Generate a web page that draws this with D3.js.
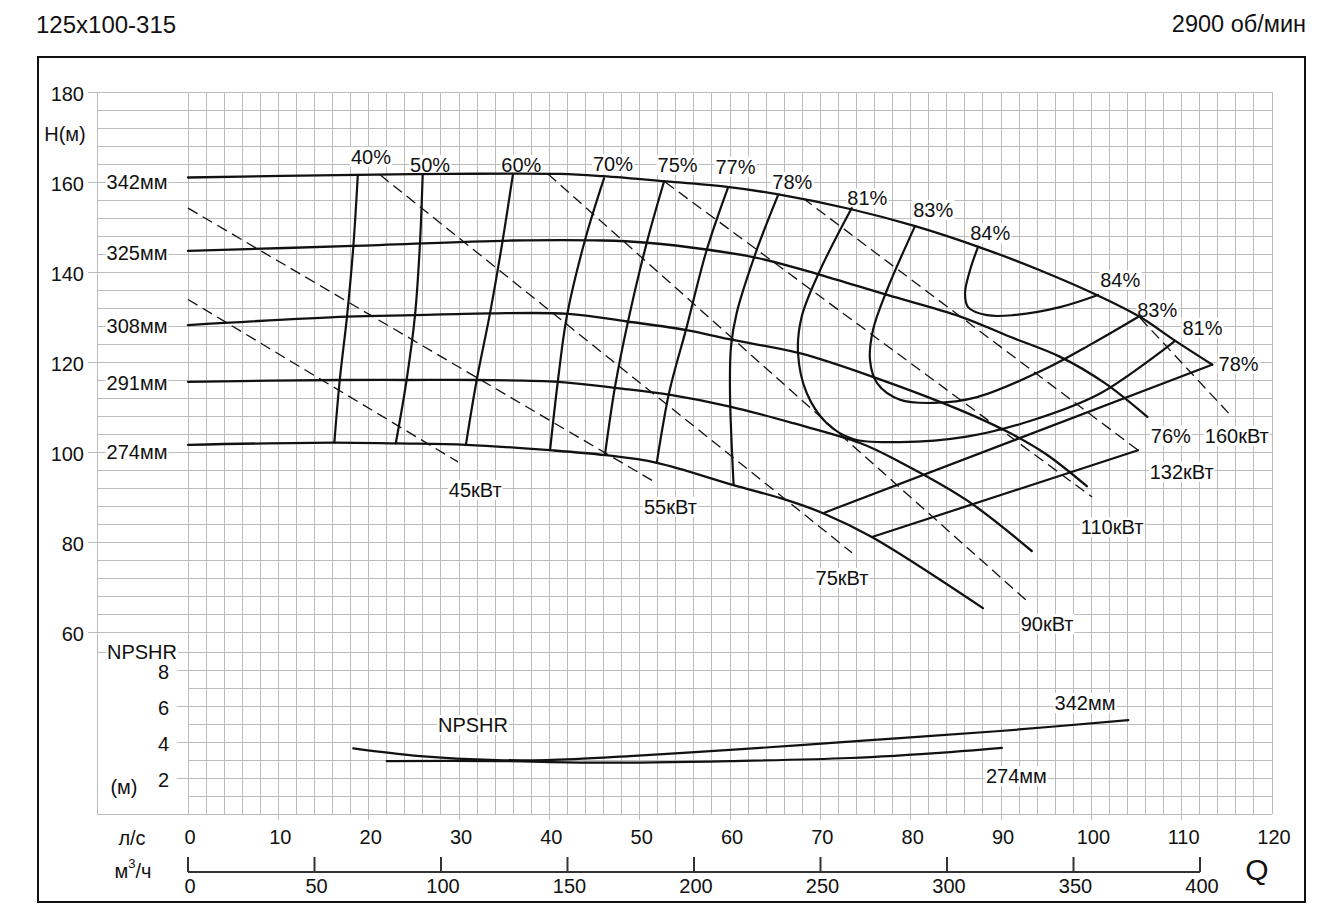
<!DOCTYPE html>
<html><head><meta charset="utf-8">
<script src="https://cdn.jsdelivr.net/npm/d3@7"></script>
<style>
body{margin:0;background:#fff}
svg{display:block}
text{font-family:"Liberation Sans",Arial,Helvetica,sans-serif;fill:#111}
</style>
</head><body>
<svg id="chart" width="1340" height="920"></svg>
<script>
// ---------- texts & ticks ----------
const title = "125x100-315";
const speed = "2900 об/мин";
const lsTicks = [0,10,20,30,40,50,60,70,80,90,100,110,120];
const m3hTicks = [0,50,100,150,200,250,300,350,400];
const headTicks = [60,80,100,120,140,160,180];
const npshTicks = [2,4,6,8];

// ---------- H-Q curves (Q l/s, H m) ----------
const diameters = ["342мм","325мм","308мм","291мм","274мм"];
const diameterLabelH = [160,144.2,128,115.3,100];
const head342 = [[0,161.0],[18.7,161.6],[29,161.8],[41.2,161.8],[45.9,161.3],[52.6,160.2],[59.7,158.9],[65.2,157.3],[73.3,154.0],[80.5,150.2],[87.5,145.6],[94.3,140.4],[100.6,134.9],[105.4,130.0],[109.3,124.7],[113.4,119.4]];
const head325 = [[0,144.7],[18.3,145.8],[35.9,147.0],[45.9,147.0],[50.8,146.5],[57.4,145.0],[63.3,143.0],[69.6,139.6],[77.4,134.9],[85.5,130.1],[91.0,125.6],[96.5,121.2],[101.5,115.3],[106.2,107.8]];
const head308 = [[0,128.2],[17.6,130.1],[25.1,130.4],[33.4,130.8],[42.1,130.7],[48.6,129.0],[55.2,127.1],[60.3,124.9],[67.8,121.9],[75.8,116.7],[85.5,109.3],[91.0,104.2],[95.0,99.5],[99.5,92.4]];
const head291 = [[0,115.6],[16.8,116.0],[24.2,116.0],[32.0,116.0],[41.0,115.6],[47.5,114.2],[53.4,112.7],[60.0,110.1],[67.0,106.4],[74.4,102.0],[78.8,97.8],[86.2,89.3],[93.4,78.0]];
const head274 = [[0,101.6],[16.2,102.1],[23.1,101.9],[30.8,101.6],[40.1,100.4],[46.2,99.3],[51.9,97.6],[60.3,92.7],[66.3,89.3],[70.3,86.4],[75.7,81.1],[88.0,65.3]];

// ---------- efficiency iso-lines ----------
const eff40 = [[18.8,161.6],[18.3,145.6],[17.6,130.1],[16.8,116.0],[16.2,102.1]];
const eff50 = [[25.98,161.6],[25.68,146.4],[25.13,130.4],[24.2,116.0],[23.0,101.9]];
const eff60 = [[35.98,161.8],[34.84,147.1],[33.43,130.8],[31.96,116.0],[30.78,101.8]];
const eff70 = [[46.05,160.8],[43.95,147.1],[41.96,130.4],[40.96,116.0],[40.08,100.4]];
const eff75 = [[52.7,160.1],[50.81,146.7],[48.71,129.0],[47.27,114.5],[46.16,99.4]];
const eff77 = [[59.75,158.6],[57.42,144.9],[55.21,127.8],[53.25,113.1],[51.89,97.6]];
const eff78 = [[65.32,157.1],[62.96,144.9],[60.74,130.9],[60.11,123.4],[60.0,113.1],[60.4,92.7]];
const eff81 = [[73.48,154.2],[69.97,140.4],[67.94,130.1],[67.53,122.0],[68.49,113.1],[70.71,106.4],[73.62,102.9],[78.8,102.2],[86.2,103.4],[93.55,107.1],[100.96,113.0],[109.27,124.7]];
const eff83 = [[80.48,150.2],[77.38,136.0],[75.83,127.1],[75.5,120.4],[76.28,115.3],[78.82,111.6],[82.48,110.9],[87.35,112.2],[94.65,118.2],[100.19,124.2],[105.17,130.0]];
const eff84 = [[87.46,145.6],[86.57,140.4],[86.02,135.3],[86.35,132.2],[88.45,130.4],[91.33,130.4],[96.53,132.2],[100.74,134.9]];
const eff78right = [[70.3,86.4],[113.36,119.4]];
const eff76right = [[75.72,81.1],[105.17,100.4]];

// ---------- power lines (dashed) ----------
const power45 = [[0,133.9],[29.89,97.8]];
const power55 = [[0,154.2],[51.7,93.3]];
const power75 = [[21.26,161.6],[73.51,77.6]];
const power90 = [[39.85,161.8],[92.99,66.7]];
const power110 = [[52.81,160.0],[100.08,90.0]];
const power132 = [[68.08,156.4],[105.17,100.4]];
const power160 = [[105.39,129.8],[115.58,107.8]];

// ---------- NPSHR ----------
const npsh342 = [[18.3,3.65],[25.7,3.22],[34.2,3.0],[39.7,3.0],[48.9,3.22],[60.0,3.56],[67.8,3.83],[78.8,4.22],[89.9,4.61],[104.1,5.22]];
const npsh274 = [[22.0,2.94],[34.2,2.94],[45.3,2.85],[60.0,2.94],[73.3,3.11],[84.4,3.44],[90.1,3.67]];

// ---------- labels inside the plot ----------
const effLabels = ["40%","50%","60%","70%","75%","77%","78%","81%","83%","84%","84%","83%","81%","78%","76%"];
const effLabelPos = [[20.26,165.6],[26.8,163.8],[36.9,163.8],[47.05,164.0],[54.2,163.8],[60.6,163.4],[66.9,160.0],[75.2,156.4],[82.5,153.8],[88.8,148.6],[103.2,138.2],[107.3,131.6],[112.3,127.6],[116.3,119.6],[108.8,103.6]];
const powerLabels = ["45кВт","55кВт","75кВт","90кВт","110кВт","132кВт","160кВт"];
const powerLabelPos = [[31.8,91.6],[53.4,87.8],[72.4,72.0],[95.1,61.8],[102.3,83.3],[110.0,95.6],[116.1,103.6]];
const npshLabels = ["NPSHR","342мм","274мм"];
const npshLabelPos = [[31.55,4.94],[99.3,6.17],[91.7,2.11]];

// ---------- drawing ----------
const svg = d3.select("#chart");
const x = d3.scaleLinear().domain([0,120]).range([188,1272]);
const xM = d3.scaleLinear().domain([0,400]).range([188,1200]);
const yH = d3.scaleLinear().domain([60,180]).range([632,92]);
const yN = d3.scaleLinear().domain([0,8]).range([814,670]);
const gridColor = "#bcbcbc";
const FS = 20;

svg.append("rect").attr("x",38).attr("y",57).attr("width",1267).attr("height",845)
  .attr("fill","none").attr("stroke","#111").attr("stroke-width",2);

svg.append("text").attr("x",36).attr("y",24).attr("dominant-baseline","central")
  .style("font-size","24px").text(title);
svg.append("text").attr("x",1306).attr("y",24).attr("dominant-baseline","central")
  .attr("text-anchor","end").style("font-size","23.5px").text(speed);

// grid
const grid = svg.append("g").attr("stroke",gridColor).attr("stroke-width",1).attr("shape-rendering","crispEdges");
d3.range(0,121,2).forEach(q => {
  grid.append("line").attr("x1",x(q)).attr("x2",x(q)).attr("y1",yH(180))
    .attr("y2",(q%10===0 && q>0 && q<120) ? yN(0)+6 : yN(0));
});
grid.append("line").attr("x1",97).attr("x2",97).attr("y1",yH(180)).attr("y2",yN(0));
d3.range(60,181,4).forEach(h => {
  grid.append("line").attr("x1",97).attr("x2",x(120)).attr("y1",yH(h)).attr("y2",yH(h));
});
headTicks.forEach(h => {
  grid.append("line").attr("x1",88).attr("x2",97).attr("y1",yH(h)).attr("y2",yH(h));
});
d3.range(0,10,1).forEach(n => {
  let x1 = 188;
  if (n === 0 || n === 9) x1 = 97;
  else if (npshTicks.includes(n)) x1 = 177;
  grid.append("line").attr("x1",x1).attr("x2",x(120)).attr("y1",yN(n)).attr("y2",yN(n));
});

function label(g, px, py, txt, opt) {
  opt = opt || {};
  const t = g.append("text").attr("x",px).attr("y",py)
    .attr("text-anchor",opt.anchor || "middle").attr("dominant-baseline","central")
    .style("font-size",(opt.size || FS)+"px").text(txt);
  if (opt.bg) {
    const b = t.node().getBBox();
    g.insert("rect", () => t.node()).attr("x",b.x-1).attr("y",b.y+1)
      .attr("width",b.width+2).attr("height",b.height-2).attr("fill","#fff");
  }
  return t;
}

const labels = svg.append("g");
headTicks.forEach(h => label(labels, 84, yH(h)+2, String(h), {anchor:"end"}));
label(labels, 65, 134, "H(м)");
diameters.forEach((d,i) => label(labels, 137, yH(diameterLabelH[i]), d, {bg:true}));
label(labels, 142, yN(9), "NPSHR", {bg:true});
npshTicks.forEach(n => label(labels, 169, yN(n)+2, String(n), {anchor:"end"}));
label(labels, 124, 787, "(м)");

lsTicks.forEach(q => label(labels, x(q)+2, 837, String(q)));
label(labels, 132, 838, "л/с");
const mt = labels.append("text").attr("x",133).attr("y",871).attr("text-anchor","middle")
  .attr("dominant-baseline","central").style("font-size",FS+"px");
mt.append("tspan").text("м");
mt.append("tspan").attr("dy",-8).style("font-size","13px").text("3");
mt.append("tspan").attr("dy",8).text("/ч");
label(labels, 1257, 869, "Q", {size:30});

const axM = svg.append("g").attr("stroke","#333").attr("stroke-width",2);
axM.append("line").attr("x1",xM(0)).attr("x2",xM(400)).attr("y1",872).attr("y2",872);
m3hTicks.forEach(m => {
  axM.append("line").attr("x1",xM(m)).attr("x2",xM(m)).attr("y1",857).attr("y2",872);
  label(labels, xM(m)+2, 886, String(m));
});

effLabels.forEach((t,i) => label(labels, x(effLabelPos[i][0]), yH(effLabelPos[i][1]), t, {bg:true}));
powerLabels.forEach((t,i) => label(labels, x(powerLabelPos[i][0]), yH(powerLabelPos[i][1]), t, {bg:true}));
npshLabels.forEach((t,i) => label(labels, x(npshLabelPos[i][0]), yN(npshLabelPos[i][1]), t, {bg:true}));

const curves = svg.append("g").attr("fill","none").attr("stroke","#111")
  .attr("stroke-linejoin","round").attr("stroke-linecap","round");
const lineH = d3.line().x(d => x(d[0])).y(d => yH(d[1])).curve(d3.curveCatmullRom.alpha(0.5));
const lineHStraight = d3.line().x(d => x(d[0])).y(d => yH(d[1]));
const lineN = d3.line().x(d => x(d[0])).y(d => yN(d[1])).curve(d3.curveCatmullRom.alpha(0.5));

[head342,head325,head308,head291,head274].forEach(c =>
  curves.append("path").attr("d",lineH(c)).attr("stroke-width",2.3));
[eff40,eff50,eff60,eff70,eff75,eff77,eff78,eff81,eff83,eff84].forEach(c =>
  curves.append("path").attr("d",lineH(c)).attr("stroke-width",2.2));
[eff78right,eff76right].forEach(c =>
  curves.append("path").attr("d",lineHStraight(c)).attr("stroke-width",2.2));
[power45,power55,power75,power90,power110,power132,power160].forEach(c =>
  curves.append("path").attr("d",lineHStraight(c)).attr("stroke-width",1.3)
    .attr("stroke-dasharray","11,6").attr("stroke-linecap","butt"));
[npsh342,npsh274].forEach(c =>
  curves.append("path").attr("d",lineN(c)).attr("stroke-width",2.2));
</script>
</body></html>
